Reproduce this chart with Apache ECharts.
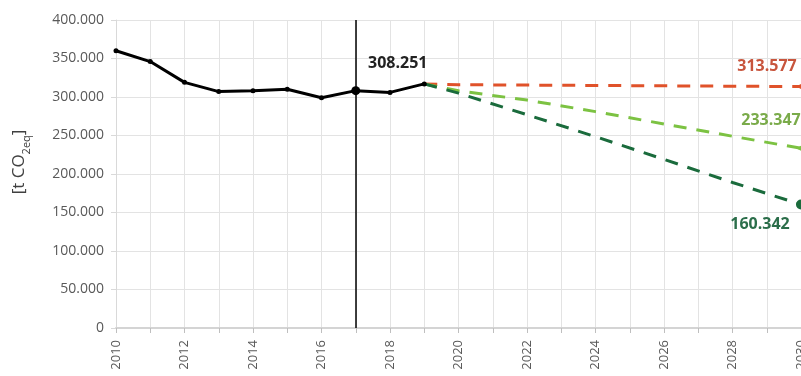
<!DOCTYPE html>
<html>
<head>
<meta charset="utf-8">
<script src="https://cdn.jsdelivr.net/npm/echarts@6/dist/echarts.min.js"></script>
<style>
html,body{margin:0;padding:0;background:#fff;}
#c{width:801px;height:376px;}
</style>
</head>
<body>
<div id="c"></div>
<script>
// Historical emissions [t CO2eq]
var histYears = [2010, 2011, 2012, 2013, 2014, 2015, 2016, 2017, 2018, 2019];
var histValues = [360000, 346000, 319000, 307000, 308000, 310000, 299000, 308251, 306000, 317000];

// Scenario projections
var scenYears = [2019, 2020, 2022, 2024, 2026, 2028, 2030];
var redValues = [317000, 316000, 315500, 315000, 314500, 314000, 313577];
var lightGreenValues = [317000, 308000, 296000, 281000, 265000, 249000, 233347];
var darkGreenValues = [317000, 305000, 277000, 248500, 219000, 189000, 160342];

var markerYear = 2017;
var yAxisName = '[t CO';
var fmt = function (v) {
  var s = String(Math.round(v));
  return s.replace(/\B(?=(\d{3})+(?!\d))/g, '.');
};
var fmt3 = function (v) {
  var s = v.toFixed(0);
  return s.length > 3 ? s.slice(0, s.length - 3) + '.' + s.slice(s.length - 3) : s;
};

function histData() {
  return histYears.map(function (y, i) {
    var item = { value: [y, histValues[i]] };
    if (y === markerYear) {
      item.symbolSize = 9;
      item.label = {
        show: true, position: 'top', offset: [42, -10],
        formatter: function (p) { return fmt3(p.value[1]); },
        color: '#222', fontWeight: 'bold', fontSize: 16, fontFamily: 'Open Sans'
      };
    }
    return item;
  });
}

function scenData(vals, sym, color, pos, off) {
  return scenYears.map(function (y, i) {
    var item = { value: [y, vals[i]] };
    if (i === vals.length - 1) {
      item.symbol = sym;
      item.symbolSize = 10;
      item.symbolRotate = sym === 'triangle' ? 90 : 0;
      item.label = {
        show: true, position: pos, offset: off,
        formatter: function (p) { return fmt3(p.value[1]); },
        color: color, fontWeight: 'bold', fontSize: 16, fontFamily: 'Open Sans'
      };
    } else {
      item.symbolSize = 0;
    }
    return item;
  });
}

var chart = echarts.init(document.getElementById('c'), null, { renderer: 'canvas' });
chart.setOption({
  animation: false,
  backgroundColor: '#fff',
  grid: { left: 116, right: 0, top: 20, bottom: 48, containLabel: false, outerBoundsMode: 'none' },
  xAxis: {
    type: 'value', min: 2010, max: 2030, interval: 1,
    axisLine: { show: true, lineStyle: { color: '#d4d4d4', width: 2 } },
    axisTick: { show: true, length: 5, lineStyle: { color: '#bfbfbf' } },
    splitLine: { show: true, lineStyle: { color: '#e3e3e3', width: 1 } },
    axisLabel: {
      rotate: 90, margin: 12, color: '#595959', fontSize: 13, fontFamily: 'Open Sans',
      formatter: function (v) { return v % 2 === 0 ? String(v) : ''; }
    }
  },
  yAxis: {
    type: 'value', min: 0, max: 400000, interval: 50000,
    name: '{a|' + yAxisName + '}{s|2eq}{a|]}',
    nameLocation: 'middle', nameGap: 88, nameRotate: 90,
    nameTextStyle: {
      padding: [0, 0, 0, 24],
      rich: {
        a: { fontSize: 17, fontFamily: 'Open Sans', color: '#404040', lineHeight: 22, verticalAlign: 'bottom' },
        s: { fontSize: 11, fontFamily: 'Open Sans', color: '#404040', lineHeight: 22, verticalAlign: 'bottom', padding: [0, 0, -4, 0] }
      }
    },
    axisLine: { show: true, lineStyle: { color: '#d9d9d9', width: 1 } },
    axisTick: { show: true, length: 5, lineStyle: { color: '#d9d9d9' } },
    splitLine: { show: true, lineStyle: { color: '#e3e3e3', width: 1 } },
    axisLabel: { color: '#595959', fontSize: 14, fontFamily: 'Open Sans', margin: 12, formatter: fmt }
  },
  series: [
    {
      type: 'line', name: 'red', z: 3,
      data: scenData(redValues, 'triangle', '#c8553d', 'top', [-34, -2]),
      symbol: 'circle', showSymbol: true,
      lineStyle: { color: '#e0522a', width: 3, type: [13, 10] },
      itemStyle: { color: '#e0522a' }
    },
    {
      type: 'line', name: 'lightgreen', z: 3,
      data: scenData(lightGreenValues, 'triangle', '#7aab4a', 'top', [-30, -10]),
      symbol: 'circle', showSymbol: true,
      lineStyle: { color: '#7cc242', width: 3, type: [13, 10] },
      itemStyle: { color: '#7cc242' }
    },
    {
      type: 'line', name: 'darkgreen', z: 3,
      data: scenData(darkGreenValues, 'circle', '#2b6e4a', 'bottom', [-41, 2]),
      symbol: 'circle', showSymbol: true,
      lineStyle: { color: '#1a6b3c', width: 3, type: [13, 10] },
      itemStyle: { color: '#1a6b3c' }
    },
    {
      type: 'line', name: 'hist', z: 4,
      data: histData(),
      symbol: 'circle', symbolSize: 5, showSymbol: true,
      lineStyle: { color: '#000', width: 3 },
      itemStyle: { color: '#000' },
      markLine: {
        silent: true, symbol: ['none', 'none'], label: { show: false },
        lineStyle: { color: '#000', width: 1.5, type: 'solid' },
        data: [{ xAxis: markerYear }]
      }
    }
  ]
});
</script>
</body>
</html>
